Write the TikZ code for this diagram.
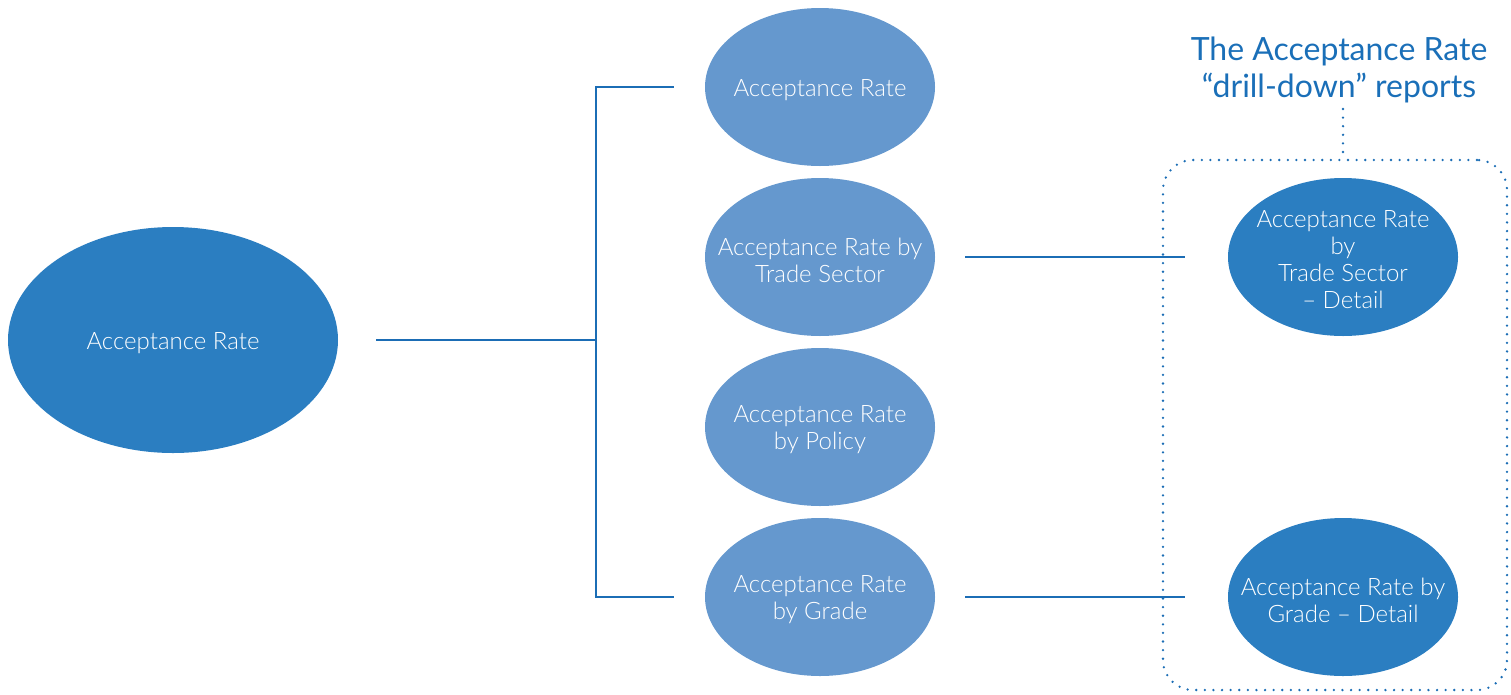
\documentclass[tikz,border=0pt]{standalone}
\usepackage{fontspec}
\setmainfont{Lato Light}
\newfontfamily\titlefont{Lato}
\usetikzlibrary{shapes.geometric}
\definecolor{dark}{HTML}{2B7EC1}
\definecolor{light}{HTML}{6598CE}
\definecolor{linec}{HTML}{1B6DB5}
\definecolor{titlec}{HTML}{1A6FB8}
\begin{document}
\begin{tikzpicture}[x=1pt,y=-1pt,
  txt/.style={text=white, align=center, inner sep=0pt, yshift=-3pt, font=\fontsize{24}{27}\selectfont},
  oval/.style={ellipse, inner sep=0pt, minimum width=230, minimum height=158},
  lightoval/.style={oval, fill=light},
  darkoval/.style={oval, fill=dark},
  conn/.style={draw=linec, line width=1.4pt},
  dots/.style={draw=linec, line width=2.6pt, line cap=round, dash pattern=on 0pt off 8.6pt}]
\useasboundingbox (0,0) rectangle (1511,694);
\node[darkoval, minimum width=330, minimum height=226, label={[txt]center:Acceptance Rate}] (big) at (173,340) {};
\node[lightoval, label={[txt]center:Acceptance Rate}] (e1) at (820,87) {};
\node[lightoval, label={[txt]center:Acceptance Rate by\\Trade Sector}] (e2) at (820,257) {};
\node[lightoval, label={[txt]center:Acceptance Rate\\by Policy}] (e3) at (820,427) {};
\node[lightoval, label={[txt]center:Acceptance Rate\\by Grade}] (e4) at (820,597) {};
\node[darkoval, label={[txt]center:Acceptance Rate\\by\\Trade Sector\\– Detail}] (e5) at (1343,257) {};
\node[darkoval, label={[txt]center:Acceptance Rate by\\Grade – Detail}] (e6) at (1343,597) {};
\node[text=titlec, align=center, inner sep=0pt, font=\titlefont\fontsize{32}{37}\selectfont] (title) at (1339,70) {The Acceptance Rate\\“drill-down” reports};
\node[dots, rounded corners=30, minimum width=344, minimum height=530, inner sep=0pt] (box) at (1335,425) {};
\coordinate (j) at (596,340);
\coordinate (t) at (1343,109);
\draw[conn, shorten <=38] (big.east) -- (j);
\draw[conn, shorten >=31] (j) |- (e1.west);
\draw[conn, shorten >=31] (j) |- (e4.west);
\draw[conn, shorten <=30, shorten >=43] (e2.east) -- (e5.west |- e2.east);
\draw[conn, shorten <=30, shorten >=43] (e4.east) -- (e6.west);
\draw[dots] (t) -- (t |- box.north);
\end{tikzpicture}
\end{document}
